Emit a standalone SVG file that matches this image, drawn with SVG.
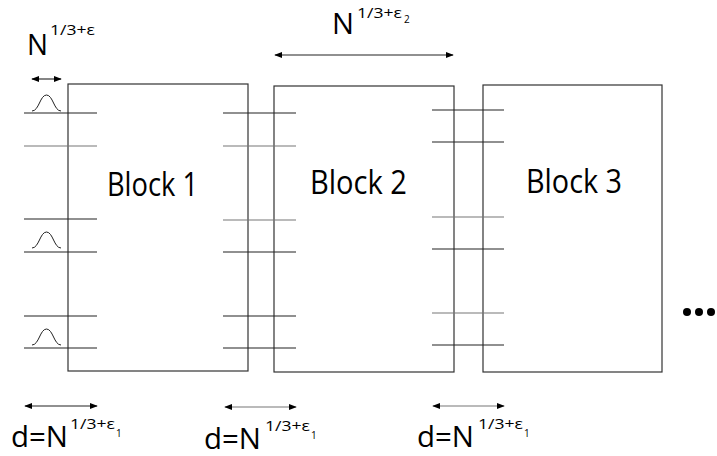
<svg xmlns="http://www.w3.org/2000/svg" width="717" height="456" viewBox="0 0 717 456">
<style>
.blk{fill:#fff;stroke:#333;stroke-width:1.2}
.ln{stroke:#222;stroke-width:1.1;fill:none}
.lg{stroke:#777;stroke-width:1.1;fill:none}
.t{font-family:"Open Sans","Liberation Sans",Arial,sans-serif;fill:#000}
.big{font-size:32px}
.lab{font-size:29px}
.sup{font-size:15px}
.sub{font-size:10px}
.bump{fill:none;stroke:#222;stroke-width:1}
</style>
<defs>
<marker id="ah" viewBox="0 0 10 10" refX="9" refY="5" markerWidth="8" markerHeight="8" markerUnits="userSpaceOnUse" orient="auto-start-reverse">
<path d="M0,1 L10,5 L0,9 Z" fill="#000"/>
</marker>
</defs>
<rect width="717" height="456" fill="#fff"/>

<g id="block1">
<rect class="blk" x="68" y="84" width="180" height="287"/>
<text class="t big" x="107" y="196" textLength="91" lengthAdjust="spacingAndGlyphs">Block 1</text>
</g>
<g id="block2">
<rect class="blk" x="274" y="86" width="180" height="286"/>
<text class="t big" x="310" y="194" textLength="97" lengthAdjust="spacingAndGlyphs">Block 2</text>
</g>
<g id="block3">
<rect class="blk" x="483" y="85" width="179" height="287"/>
<text class="t big" x="526" y="193" textLength="96" lengthAdjust="spacingAndGlyphs">Block 3</text>
</g>

<g id="connectors">
<line class="ln" x1="24" y1="113" x2="97" y2="113"/>
<line class="lg" x1="24" y1="146" x2="97" y2="146"/>
<line class="ln" x1="24" y1="219" x2="97" y2="219"/>
<line class="ln" x1="24" y1="252" x2="97" y2="252"/>
<line class="ln" x1="24" y1="316" x2="97" y2="316"/>
<line class="ln" x1="24" y1="348" x2="97" y2="348"/>
<line class="ln" x1="223" y1="113" x2="296" y2="113"/>
<line class="lg" x1="223" y1="146" x2="296" y2="146"/>
<line class="lg" x1="223" y1="220" x2="296" y2="220"/>
<line class="ln" x1="223" y1="252" x2="296" y2="252"/>
<line class="ln" x1="223" y1="316" x2="296" y2="316"/>
<line class="ln" x1="223" y1="348" x2="296" y2="348"/>
<line class="ln" x1="432" y1="110" x2="504" y2="110"/>
<line class="ln" x1="432" y1="142" x2="504" y2="142"/>
<line class="lg" x1="432" y1="217" x2="504" y2="217"/>
<line class="ln" x1="432" y1="249" x2="504" y2="249"/>
<line class="lg" x1="432" y1="313" x2="504" y2="313"/>
<line class="ln" x1="432" y1="345" x2="504" y2="345"/>
<path class="bump" d="M32,111 C39,111 40,95 46.5,95 C53,95 54,111 61,111"/>
<path class="bump" d="M32,248 C39,248 40,232 46.5,232 C53,232 54,248 61,248"/>
<path class="bump" d="M32,345 C39,345 40,329 46.5,329 C53,329 54,345 61,345"/>
<line class="ln" x1="32" y1="79" x2="61" y2="79" marker-start="url(#ah)" marker-end="url(#ah)"/>
<line class="ln" x1="275" y1="55" x2="453" y2="55" marker-start="url(#ah)" marker-end="url(#ah)"/>
<line class="ln" x1="25" y1="406" x2="97" y2="406" marker-start="url(#ah)" marker-end="url(#ah)"/>
<line class="lg" x1="225" y1="407" x2="296" y2="407" marker-start="url(#ah)" marker-end="url(#ah)"/>
<line class="lg" x1="433" y1="406" x2="504" y2="406" marker-start="url(#ah)" marker-end="url(#ah)"/>
</g>

<g id="labels">
<text class="t lab" x="27" y="55" textLength="21" lengthAdjust="spacingAndGlyphs">N</text>
<text class="t sup" x="50" y="35" textLength="45" lengthAdjust="spacingAndGlyphs">1/3+ε</text>

<text class="t lab" x="332" y="34" textLength="22" lengthAdjust="spacingAndGlyphs">N</text>
<text class="t sup" x="357" y="18" textLength="45" lengthAdjust="spacingAndGlyphs">1/3+ε</text>
<text class="t sub" x="404" y="23">2</text>

<text class="t lab" x="11" y="447" textLength="57" lengthAdjust="spacingAndGlyphs">d=N</text>
<text class="t sup" x="70" y="429" textLength="45" lengthAdjust="spacingAndGlyphs">1/3+ε</text>
<text class="t sub" x="116" y="437">1</text>

<text class="t lab" x="204" y="449" textLength="57" lengthAdjust="spacingAndGlyphs">d=N</text>
<text class="t sup" x="265" y="431" textLength="45" lengthAdjust="spacingAndGlyphs">1/3+ε</text>
<text class="t sub" x="311" y="439">1</text>

<text class="t lab" x="417" y="447" textLength="57" lengthAdjust="spacingAndGlyphs">d=N</text>
<text class="t sup" x="478" y="429" textLength="45" lengthAdjust="spacingAndGlyphs">1/3+ε</text>
<text class="t sub" x="524" y="437">1</text>
</g>

<g id="ellipsis">
<circle cx="687" cy="312" r="4" fill="#000"/>
<circle cx="699" cy="312" r="4" fill="#000"/>
<circle cx="711" cy="312" r="4" fill="#000"/>
</g>
</svg>
